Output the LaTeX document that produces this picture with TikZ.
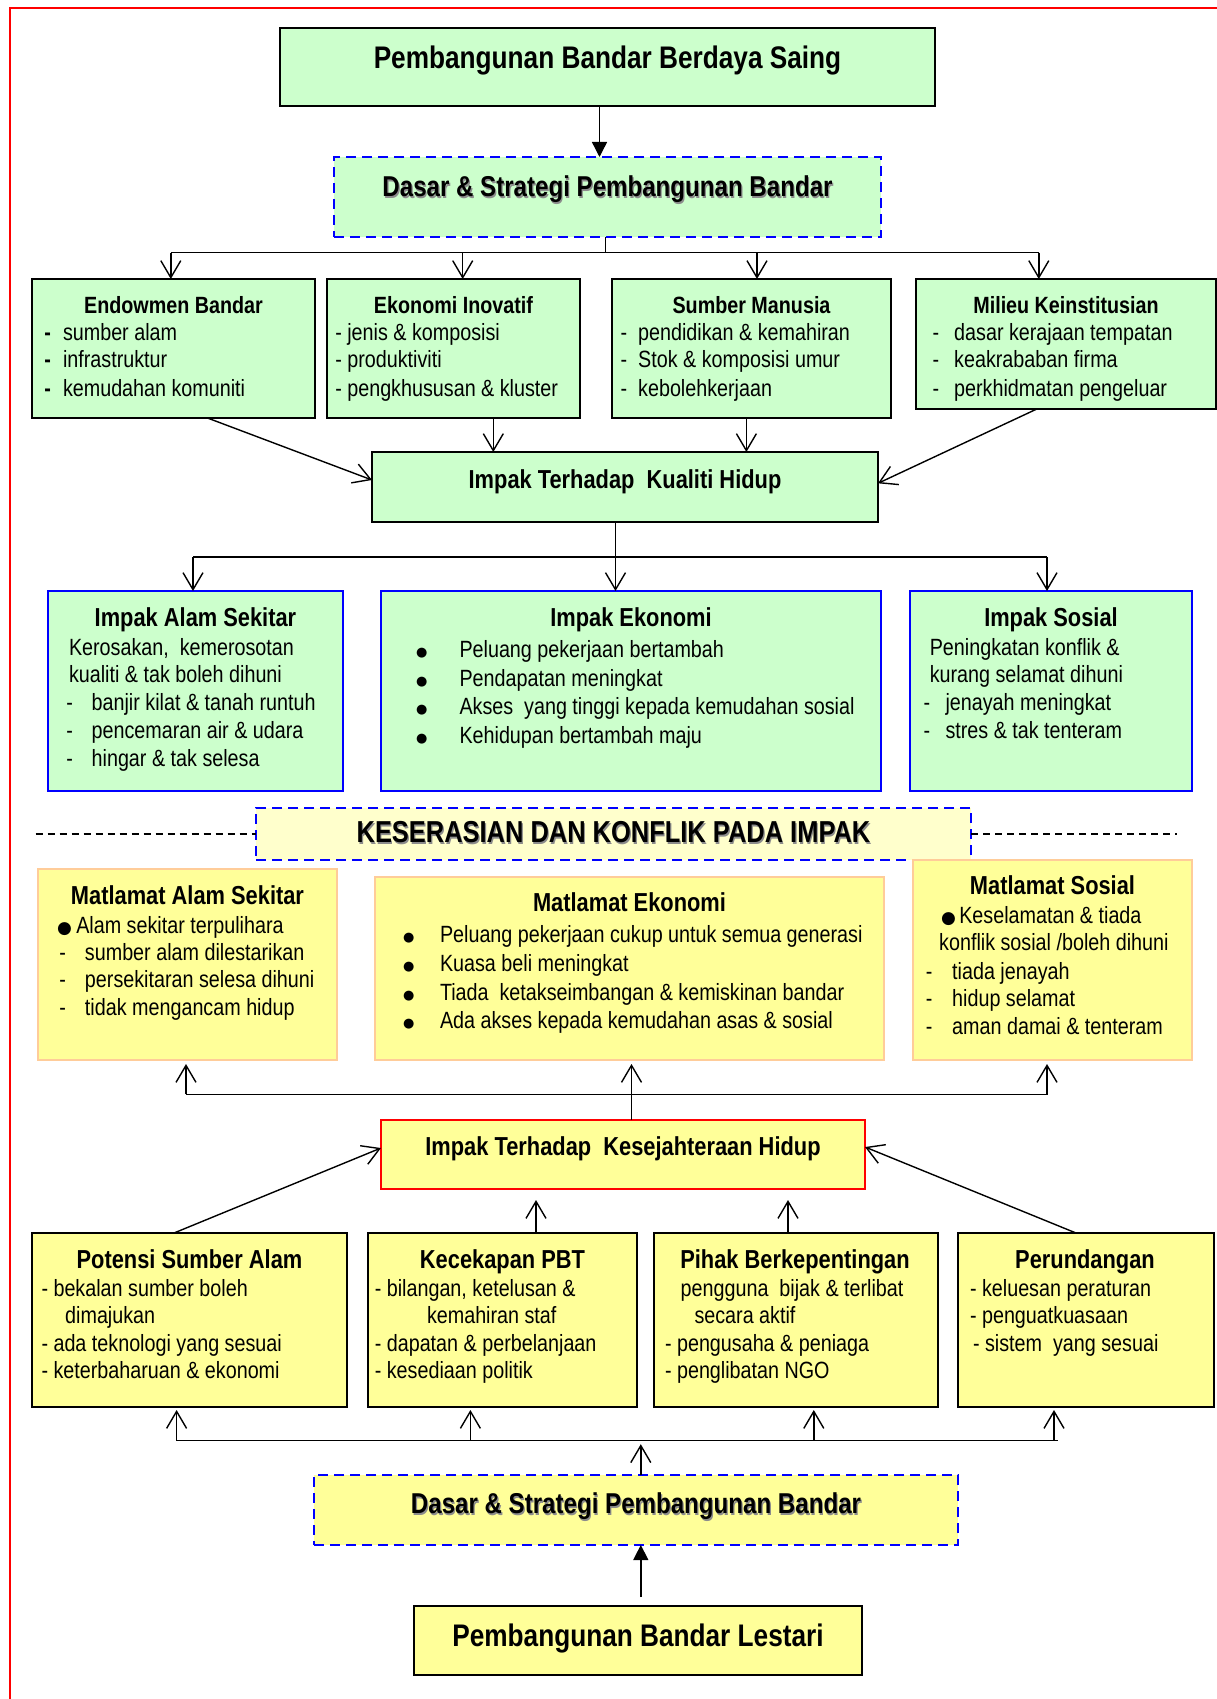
\documentclass[tikz,border=0pt]{standalone}
\usepackage{fontspec}
\setmainfont{Liberation Sans}[FakeStretch=0.84]
\newfontfamily\bulfont{DejaVu Sans}
\usetikzlibrary{arrows.meta}
\definecolor{grn}{HTML}{CCFFCC}
\definecolor{yel}{HTML}{FFFF99}
\definecolor{lyel}{HTML}{FFFFCC}
\definecolor{peach}{HTML}{FFCC99}
\definecolor{bblue}{HTML}{0000FF}
\definecolor{rred}{HTML}{FF0000}
\newcommand\bx[6]{\node[#1, minimum width={(#5-#3)*1pt}, minimum height={(#6-#4)*1pt}] (#2) at ({(#3+#5)/2},{(#4+#6)/2}) {};}
\newcommand\tline[4]{\node[tx] (#1) at (#2,#3) {#4};}
\newcommand\dl[2]{\makebox[#1pt][l]{-}#2}
\newcommand\dlb[2]{\makebox[#1pt][l]{\textbf{-}}#2}
\newcommand\bs[2]{\makebox[#1pt][l]{\raisebox{1pt}{\bulfont\fontsize{13}{13}\selectfont ●}}#2}
\newcommand\bb[2]{\makebox[#1pt][l]{{\bulfont\fontsize{17}{17}\selectfont ●}}#2}
\tikzset{
  box/.style={inner sep=0, outer sep=0},
  gbox/.style={box, draw=black, line width=1.6pt, fill=grn},
  bbox/.style={box, draw=bblue, line width=2.2pt, fill=grn},
  dbox/.style={box, draw=bblue, line width=2.6pt, dash pattern=on 10pt off 6pt},
  mbox/.style={box, draw=peach, line width=2.4pt, fill=yel},
  ybox/.style={box, draw=black, line width=1.6pt, fill=yel},
  rbox/.style={box, draw=rred, line width=2pt, fill=yel},
  tx/.style={inner sep=0, outer sep=0, anchor=base west, font=\fontsize{23.5}{28}\selectfont},
  hd/.style={inner sep=0, anchor=base, font=\bfseries\fontsize{23.5}{28}\selectfont},
  hdb/.style={inner sep=0, anchor=base, font=\bfseries\fontsize{26}{30}\selectfont},
  ttl/.style={inner sep=0, anchor=base, font=\bfseries\fontsize{31.2}{36}\selectfont},
  dtl/.style={inner sep=0, anchor=base, font=\bfseries\fontsize{28.7}{34}\selectfont},
  ktl/.style={inner sep=0, anchor=base, font=\bfseries\fontsize{30.3}{34}\selectfont},
  shd/.style={text=black!45},
  conn/.style={draw=black, line width=1.4pt},
  oarr/.style={conn, -{Straight Barb[length=17pt,width=20pt]}},
  farr/.style={conn, -{Triangle[length=15pt,width=15pt]}},
  sep/.style={draw=black, line width=1.2pt, dash pattern=on 7pt off 5pt},
}
\begin{document}
\begin{tikzpicture}[x=1pt,y=-1pt]
\fill[white] (0,0) rectangle (1217,1699);
\useasboundingbox (0,0) rectangle (1217,1699);
% frame
\draw[rred, line width=1.6pt] (10,1699) -- (10,8) -- (1217,8);

% ---------- boxes ----------
\bx{gbox}{T}{280}{28}{935}{106}
\bx{dbox,fill=grn}{D1}{334}{157}{881}{237}
\bx{gbox}{E1}{32}{279}{315}{418}
\bx{gbox}{E2}{327}{279}{580}{418}
\bx{gbox}{E3}{612}{279}{891}{418}
\bx{gbox}{E4}{916}{279}{1216}{409}
\bx{gbox}{K}{372}{452}{878}{522}
\bx{bbox}{IA}{48}{591}{343}{791}
\bx{bbox}{IE}{381}{591}{881}{791}
\bx{bbox}{IS}{910}{591}{1192}{791}
\bx{dbox,fill=lyel}{KS}{256}{808}{971}{860}
\bx{mbox}{MA}{38}{869}{337}{1060}
\bx{mbox}{ME}{375}{877}{884}{1060}
\bx{mbox}{MS}{913}{860}{1192}{1060}
\bx{rbox}{KJ}{381}{1120}{865}{1189}
\bx{ybox}{P1}{32}{1233}{347}{1407}
\bx{ybox}{P2}{368}{1233}{637}{1407}
\bx{ybox}{P3}{654}{1233}{938}{1407}
\bx{ybox}{P4}{958}{1233}{1214}{1407}
\bx{dbox,fill=yel}{D2}{314}{1475}{958}{1545}
\bx{ybox}{L}{414}{1606}{862}{1675}

% ---------- connectors ----------
\coordinate (t1) at ([xshift=-8pt]T.south);
\draw[farr] (t1) -- (t1 |- D1.north);

\coordinate (d1s) at ([xshift=-2pt]D1.south);
\coordinate (bus1l) at (170.8,252.7);
\coordinate (bus1r) at (1038.8,252.7);
\draw[conn] (d1s) -- (d1s |- bus1l);
\draw[conn] (bus1l) -- (bus1r);
\coordinate (a1) at ([xshift=-2.7pt]E1.north);
\coordinate (a2) at ([xshift=9.2pt]E2.north);
\coordinate (a3) at ([xshift=5.5pt]E3.north);
\coordinate (a4) at ([xshift=-27.2pt]E4.north);
\foreach \a in {a1,a2,a3,a4} \draw[oarr] (\a |- bus1l) -- (\a);

\draw[oarr] ([xshift=34pt]E1.south) -- ([yshift=7pt]K.west);
\coordinate (k2) at ([xshift=39.8pt]E2.south);
\draw[oarr] (k2) -- (k2 |- K.north);
\coordinate (k3) at ([xshift=-5.1pt]E3.south);
\draw[oarr] (k3) -- (k3 |- K.north);
\draw[oarr] ([xshift=-29.2pt]E4.south) -- ([yshift=3.7pt]K.east);

\coordinate (ks) at ([xshift=-9.5pt]K.south);
\coordinate (bus2l) at (193,557);
\coordinate (bus2r) at (1047,557);
\draw[conn] (ks) -- (ks |- bus2l);
\draw[conn] (bus2l) -- (bus2r);
\coordinate (i1) at ([xshift=-2.5pt]IA.north);
\coordinate (i2) at ([xshift=-15.5pt]IE.north);
\coordinate (i3) at ([xshift=-4pt]IS.north);
\foreach \a in {i1,i2,i3} \draw[oarr] (\a |- bus2l) -- (\a);

\coordinate (sl) at (35.6,834);
\coordinate (sr) at (1176.5,834);
\draw[sep] (sl) -- (KS.west);
\draw[sep] (KS.east) -- (sr);

\coordinate (js) at ([xshift=8.5pt]KJ.north);
\coordinate (bus3l) at (186,1094.3);
\coordinate (bus3r) at (1048,1094.3);
\draw[conn] (js) -- (js |- bus3l);
\draw[conn] (bus3l) -- (bus3r);
\coordinate (m1) at ([xshift=-1.5pt]MA.south);
\coordinate (m2) at ([xshift=2pt]ME.south);
\coordinate (m3) at ([xshift=-5.5pt]MS.south);
\foreach \a in {m1,m2,m3} \draw[oarr, shorten >=4pt] (\a |- bus3l) -- (\a);

\draw[oarr] ([xshift=-15.5pt]P1.north) -- ([yshift=6.5pt]KJ.west);
\coordinate (p2) at ([xshift=33.5pt]P2.north);
\draw[oarr, shorten >=11pt] (p2) -- (p2 |- KJ.south);
\coordinate (p3) at ([xshift=-8pt]P3.north);
\draw[oarr, shorten >=11pt] (p3) -- (p3 |- KJ.south);
\draw[oarr] ([xshift=-10pt]P4.north) -- ([yshift=7.5pt]KJ.east);

\coordinate (bus4l) at (176,1440.7);
\coordinate (bus4r) at (1057.7,1440.7);
\draw[conn] (bus4l) -- (bus4r);
\coordinate (q1) at ([xshift=-12.9pt]P1.south);
\coordinate (q2) at ([xshift=-32.1pt]P2.south);
\coordinate (q3) at ([xshift=17.8pt]P3.south);
\coordinate (q4) at ([xshift=-32pt]P4.south);
\foreach \a in {q1,q2,q3,q4} \draw[oarr, shorten >=3pt] (\a |- bus4l) -- (\a);

\coordinate (d2n) at ([xshift=4.8pt]D2.north);
\draw[oarr, shorten >=3.5pt] (d2n) -- (d2n |- bus4l);
\coordinate (lnn) at ([xshift=2.8pt]L.north);
\draw[farr, shorten <=9pt] (lnn) -- (lnn |- D2.south);

% ---------- titles ----------
\node[ttl] (Tt) at (607.5,68.3) {Pembangunan Bandar Berdaya Saing};
\node[dtl, shd] (D1s) at (608.7,198.2) {Dasar \& Strategi Pembangunan Bandar};
\node[dtl] (D1t) at (607.5,196.7) {Dasar \& Strategi Pembangunan Bandar};
\node[hdb] (Kt) at (625,488) {Impak Terhadap~ Kualiti Hidup};
\node[ktl, shd] (KSs) at (614.7,844.2) {KESERASIAN DAN KONFLIK PADA IMPAK};
\node[ktl] (KSt) at (613.5,842.7) {KESERASIAN DAN KONFLIK PADA IMPAK};
\node[hdb] (KJt) at (623,1155) {Impak Terhadap~ Kesejahteraan Hidup};
\node[dtl, shd] (D2s) at (637.2,1515) {Dasar \& Strategi Pembangunan Bandar};
\node[dtl] (D2t) at (636,1513.5) {Dasar \& Strategi Pembangunan Bandar};
\node[ttl] (Lt) at (638,1646) {Pembangunan Bandar Lestari};

% ---------- top row ----------
\node[hd] (E1h) at (173.5,313) {Endowmen Bandar};
\tline{E1a}{44.3}{340.7}{\dlb{18.7}{sumber alam}}
\tline{E1b}{44.3}{367.8}{\dlb{18.7}{infrastruktur}}
\tline{E1c}{44.3}{396}{\dlb{18.7}{kemudahan komuniti}}

\node[hd] (E2h) at (453.5,313) {Ekonomi Inovatif};
\tline{E2a}{335.3}{340.7}{- jenis \& komposisi}
\tline{E2b}{335.3}{367.8}{- produktiviti}
\tline{E2c}{335.3}{396}{- pengkhususan \& kluster}

\node[hd] (E3h) at (751.5,313) {Sumber Manusia};
\tline{E3a}{620.5}{340.7}{\dl{17.7}{pendidikan \& kemahiran}}
\tline{E3b}{620.5}{367.8}{\dl{17.7}{Stok \& komposisi umur}}
\tline{E3c}{620.5}{396}{\dl{17.7}{kebolehkerjaan}}

\node[hd] (E4h) at (1066,313) {Milieu Keinstitusian};
\tline{E4a}{932.5}{340.7}{\dl{21.7}{dasar kerajaan tempatan}}
\tline{E4b}{932.5}{367.8}{\dl{21.7}{keakrababan firma}}
\tline{E4c}{932.5}{396}{\dl{21.7}{perkhidmatan pengeluar}}

% ---------- impak row ----------
\node[hdb] (IAh) at (195.5,626.7) {Impak Alam Sekitar};
\tline{IAa}{69}{655}{Kerosakan,~ kemerosotan}
\tline{IAb}{69}{682}{kualiti \& tak boleh dihuni}
\tline{IAc}{66.4}{710}{\dl{25.3}{banjir kilat \& tanah runtuh}}
\tline{IAd}{66.4}{738}{\dl{25.3}{pencemaran air \& udara}}
\tline{IAe}{66.4}{766.6}{\dl{25.3}{hingar \& tak selesa}}

\node[hdb] (IEh) at (631,626.7) {Impak Ekonomi};
\tline{IEa}{416}{657}{\bs{43.5}{Peluang pekerjaan bertambah}}
\tline{IEb}{416}{686}{\bs{43.5}{Pendapatan meningkat}}
\tline{IEc}{416}{714.6}{\bs{43.5}{Akses~ yang tinggi kepada kemudahan sosial}}
\tline{IEd}{416}{743.8}{\bs{43.5}{Kehidupan bertambah maju}}

\node[hdb] (ISh) at (1051,626.7) {Impak Sosial};
\tline{ISa}{929.8}{655}{Peningkatan konflik \&}
\tline{ISb}{929.8}{682}{kurang selamat dihuni}
\tline{ISc}{923.5}{710}{\dl{22}{jenayah meningkat}}
\tline{ISd}{923.5}{738}{\dl{22}{stres \& tak tenteram}}

% ---------- matlamat row ----------
\node[hdb] (MAh) at (187.5,904) {Matlamat Alam Sekitar};
\tline{MAa}{57}{933.5}{\bb{19.3}{Alam sekitar terpulihara}}
\tline{MAb}{59.3}{960.6}{\dl{25.7}{sumber alam dilestarikan}}
\tline{MAc}{59.3}{987.7}{\dl{25.7}{persekitaran selesa dihuni}}
\tline{MAd}{59.3}{1015.8}{\dl{25.7}{tidak mengancam hidup}}

\node[hdb] (MEh) at (629.5,911.7) {Matlamat Ekonomi};
\tline{MEa}{403}{942}{\bs{37}{Peluang pekerjaan cukup untuk semua generasi}}
\tline{MEb}{403}{971.4}{\bs{37}{Kuasa beli meningkat}}
\tline{MEc}{403}{1000.7}{\bs{37}{Tiada~ ketakseimbangan \& kemiskinan bandar}}
\tline{MEd}{403}{1028.8}{\bs{37}{Ada akses kepada kemudahan asas \& sosial}}

\node[hdb] (MSh) at (1052.5,894.4) {Matlamat Sosial};
\tline{MSa}{941}{923.7}{\bb{18.3}{Keselamatan \& tiada}}
\tline{MSb}{939.2}{950.8}{konflik sosial /boleh dihuni}
\tline{MSc}{925.9}{979}{\dl{26.3}{tiada jenayah}}
\tline{MSd}{925.9}{1006}{\dl{26.3}{hidup selamat}}
\tline{MSe}{925.9}{1034.3}{\dl{26.3}{aman damai \& tenteram}}

% ---------- bottom row ----------
\node[hdb] (P1h) at (189.5,1268) {Potensi Sumber Alam};
\tline{P1a}{41.5}{1296.5}{- bekalan sumber boleh}
\tline{P1b}{65.2}{1323.6}{dimajukan}
\tline{P1c}{41.5}{1351.8}{- ada teknologi yang sesuai}
\tline{P1d}{41.5}{1378.9}{- keterbaharuan \& ekonomi}

\node[hdb] (P2h) at (502.5,1268) {Kecekapan PBT};
\tline{P2a}{374.8}{1296.5}{- bilangan, ketelusan \&}
\tline{P2b}{427}{1323.6}{kemahiran staf}
\tline{P2c}{374.8}{1351.8}{- dapatan \& perbelanjaan}
\tline{P2d}{374.8}{1378.9}{- kesediaan politik}

\node[hdb] (P3h) at (795,1268) {Pihak Berkepentingan};
\tline{P3a}{680.7}{1296.5}{pengguna~ bijak \& terlibat}
\tline{P3b}{694.5}{1323.6}{secara aktif}
\tline{P3c}{665}{1351.8}{- pengusaha \& peniaga}
\tline{P3d}{665}{1378.9}{- penglibatan NGO}

\node[hdb] (P4h) at (1085,1268) {Perundangan};
\tline{P4a}{970}{1296.5}{- keluesan peraturan}
\tline{P4b}{970}{1323.6}{- penguatkuasaan}
\tline{P4c}{973}{1351.8}{- sistem~ yang sesuai}
\end{tikzpicture}
\end{document}
